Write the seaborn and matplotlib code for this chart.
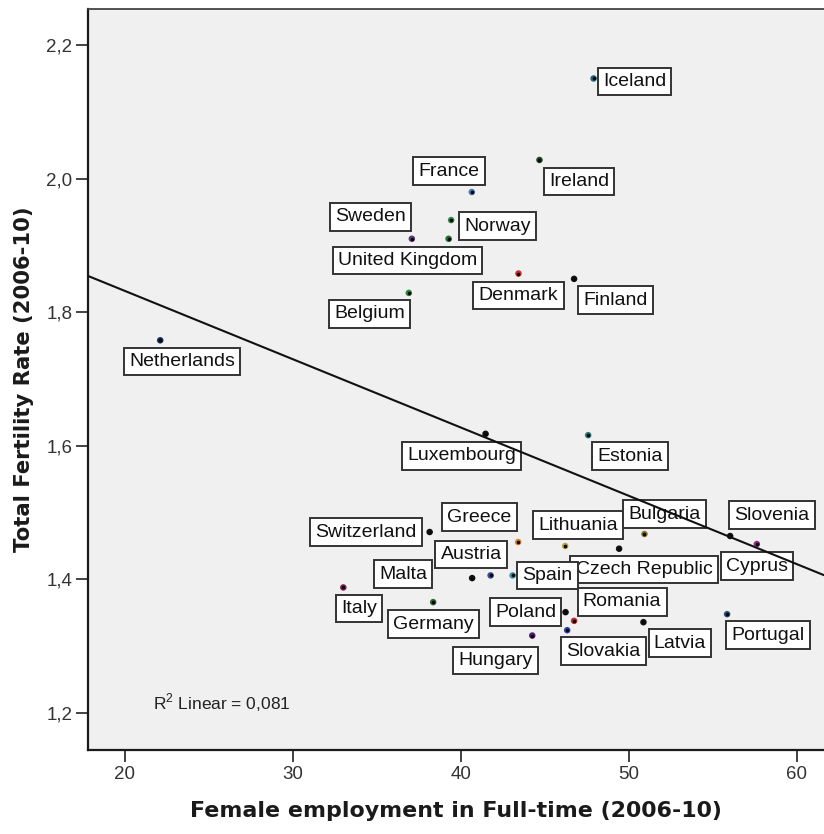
import matplotlib
matplotlib.use("Agg")
import matplotlib.pyplot as plt
import seaborn as sns
import pandas as pd

# Country-level averages, 2006-10
countries = ["Netherlands", "Sweden", "Belgium", "Iceland", "Ireland", "France",
             "Norway", "United Kingdom", "Denmark", "Finland", "Luxembourg", "Estonia",
             "Switzerland", "Greece", "Lithuania", "Czech Republic", "Bulgaria", "Slovenia",
             "Cyprus", "Malta", "Austria", "Spain", "Italy", "Germany", "Poland",
             "Romania", "Slovakia", "Hungary", "Latvia", "Portugal"]
female_fulltime = [22.1, 37.08, 36.9, 47.9, 44.68, 40.65,
                   39.42, 39.27, 43.43, 46.74, 41.47, 47.58,
                   38.14, 43.41, 46.21, 49.42, 50.93, 56.03,
                   57.62, 40.67, 41.77, 43.08, 33.0, 38.35, 46.23,
                   46.74, 46.33, 44.25, 50.87, 55.85]
fertility = [1.758, 1.910, 1.829, 2.150, 2.028, 1.980,
             1.938, 1.910, 1.858, 1.850, 1.618, 1.616,
             1.471, 1.456, 1.450, 1.446, 1.468, 1.465,
             1.453, 1.402, 1.406, 1.406, 1.388, 1.366, 1.351,
             1.338, 1.324, 1.316, 1.336, 1.348]
r2_label = "0,081"

x_ticks = [20, 30, 40, 50, 60]
y_ticks = [1.2, 1.4, 1.6, 1.8, 2.0, 2.2]

# Marker ring colour per country
ring_colors = {
    "Netherlands": "#1c2a55", "Sweden": "#5a3a78", "Belgium": "#2f8a3c",
    "Iceland": "#1f6a7a", "Ireland": "#1d4a2a", "France": "#4a78b0",
    "Norway": "#2e8b3e", "United Kingdom": "#2a6a36", "Denmark": "#c83232",
    "Finland": "#111111", "Luxembourg": "#111111", "Estonia": "#2a7a78",
    "Switzerland": "#111111", "Greece": "#d8862a", "Lithuania": "#b8a43a",
    "Czech Republic": "#111111", "Bulgaria": "#8a7a2a", "Slovenia": "#111111",
    "Cyprus": "#9a2a8a", "Malta": "#111111", "Austria": "#3a4a92",
    "Spain": "#3a92a2", "Italy": "#8a2050", "Germany": "#2a6a3a",
    "Poland": "#111111", "Romania": "#b83030", "Slovakia": "#3040b8",
    "Hungary": "#502070", "Latvia": "#111111", "Portugal": "#305080",
}

# Label box offsets from each point, in pixels (right, up)
label_offsets = {
    "Iceland": (41, -3), "Ireland": (39.5, -21.4), "France": (-23, 21),
    "Norway": (46, -6), "Sweden": (-41, 22), "United Kingdom": (-41, -21.5),
    "Belgium": (-39, -21), "Netherlands": (22, -21), "Denmark": (0, -22),
    "Finland": (41.5, -21.3), "Luxembourg": (-24, -22), "Estonia": (41.5, -21),
    "Greece": (-39, 25), "Switzerland": (-64, 0), "Lithuania": (12.7, 21),
    "Bulgaria": (20, 20), "Slovenia": (41.7, 21), "Cyprus": (0, -22),
    "Czech Republic": (25, -21), "Austria": (-19.5, 21), "Malta": (-69, 4),
    "Spain": (35, 0), "Italy": (16, -21), "Germany": (0, -22),
    "Poland": (-40, 0), "Romania": (48, 19), "Slovakia": (36, -21),
    "Hungary": (-37, -25), "Latvia": (36.5, -21), "Portugal": (40.7, -21),
}

df = pd.DataFrame({"country": countries, "emp": female_fulltime, "tfr": fertility})

sns.set_theme(style="white")
plt.rcParams["font.family"] = ["Liberation Sans", "DejaVu Sans"]

fig = plt.figure(figsize=(8.24, 8.34), dpi=100)
ax = fig.add_axes([0.1072, 0.1007, 0.8928, 0.8885])
ax.set_facecolor("#f0f0f0")
ax.set_xlim(17.82, 61.62)
ax.set_ylim(1.1446, 2.254)

# Fit line across the full x range
sns.regplot(data=df, x="emp", y="tfr", scatter=False, ci=None, truncate=False,
            ax=ax, line_kws={"color": "#111111", "lw": 1.5, "zorder": 6})

# Points: coloured ring with a dark core
sns.scatterplot(data=df, x="emp", y="tfr", hue="country", palette=ring_colors,
                s=22, linewidth=0, legend=False, ax=ax, zorder=3)
sns.scatterplot(data=df, x="emp", y="tfr", color="#0a0a0a",
                s=7, linewidth=0, legend=False, ax=ax, zorder=4)

for name, xv, yv in zip(countries, female_fulltime, fertility):
    dx, dy = label_offsets[name]
    ax.annotate(name, (xv, yv), xytext=(dx, dy), textcoords="offset pixels",
                ha="center", va="center", fontsize=14, color="#111111", zorder=5,
                bbox=dict(boxstyle="square,pad=0.27", fc="white", ec="#333333", lw=1.4))

ax.text(21.67, 1.216, r"R$^{\mathregular{2}}$ Linear = " + r2_label,
        ha="left", va="center", fontsize=12.5, color="#222222")

ax.set_xticks(x_ticks)
ax.set_yticks(y_ticks)
ax.set_xticklabels([str(v) for v in x_ticks])
ax.set_yticklabels([f"{v:.1f}".replace(".", ",") for v in y_ticks])
ax.tick_params(axis="both", which="major", direction="out", length=8.6, width=1.2,
               color="#222222", labelsize=13.5, labelcolor="#333333", pad=3,
               bottom=True, left=True)

for side in ["left", "bottom"]:
    ax.spines[side].set_color("#1a1a1a")
    ax.spines[side].set_linewidth(1.6)
ax.spines["top"].set_color("#444444")
ax.spines["top"].set_linewidth(1.3)
ax.spines["right"].set_visible(False)

ax.set_xlabel("Female employment in Full-time (2006-10)", fontsize=15.9,
              fontweight="bold", family="DejaVu Sans", color="#1a1a1a", labelpad=13)
ax.set_ylabel("Total Fertility Rate (2006-10)", fontsize=15.2,
              fontweight="bold", family="DejaVu Sans", color="#1a1a1a", labelpad=9)

fig.savefig("out.png", dpi=100, facecolor="white")
